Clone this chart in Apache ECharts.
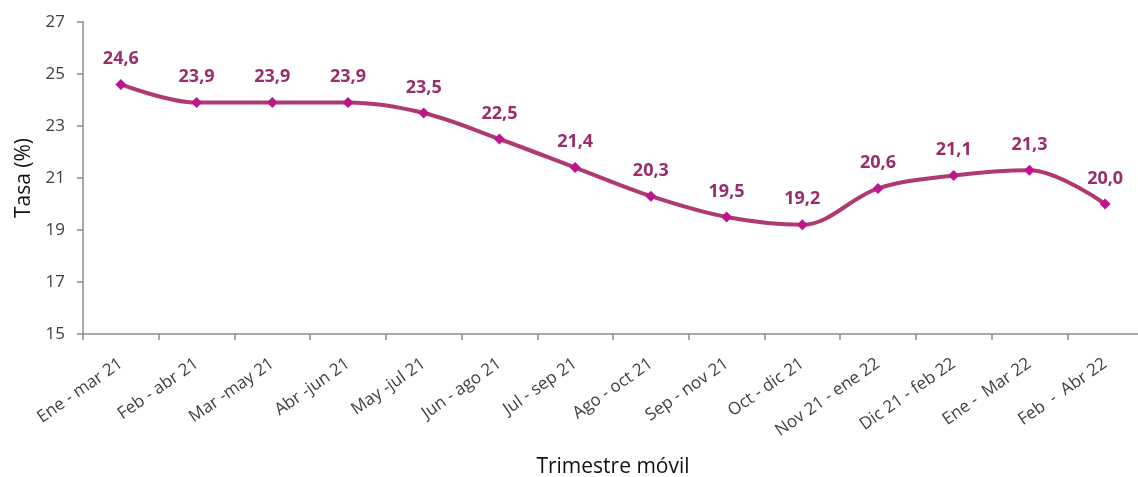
<!DOCTYPE html>
<html>
<head>
<meta charset="utf-8">
<script src="https://cdn.jsdelivr.net/npm/echarts@6/dist/echarts.min.js"></script>
<style>html,body{margin:0;padding:0;background:#fff;}#c{width:1138px;height:477px;}</style>
</head>
<body>
<div id="c"></div>
<script>
const categories = ["Ene - mar 21","Feb - abr 21","Mar -may 21","Abr -jun 21","May -jul 21","Jun - ago 21","Jul - sep 21","Ago - oct 21","Sep - nov 21","Oct - dic 21","Nov 21 - ene 22","Dic 21 - feb 22","Ene -  Mar 22","Feb  -  Abr 22"];
const tasa = [24.6, 23.9, 23.9, 23.9, 23.5, 22.5, 21.4, 20.3, 19.5, 19.2, 20.6, 21.1, 21.3, 20.0];
const yTicks = [15, 17, 19, 21, 23, 25, 27];

const chart = echarts.init(document.getElementById('c'));
const font = '"Open Sans", "Noto Sans", sans-serif';
chart.setOption({
  animation: false,
  grid: { left: 83, width: 1060, top: 22, height: 312, outerBoundsMode: 'none', containLabel: false },
  xAxis: {
    type: 'category',
    data: categories,
    boundaryGap: true,
    name: 'Trimestre móvil',
    nameLocation: 'middle',
    nameGap: 123,
    nameTextStyle: { color: '#111', fontSize: 21, fontFamily: font },
    axisLine: { lineStyle: { color: '#8c8c8c', width: 1.5 } },
    axisTick: { show: true, length: 6, lineStyle: { color: '#8c8c8c', width: 1.5 } },
    axisLabel: { rotate: 35, margin: 28, color: '#404040', fontSize: 17, fontFamily: font, interval: 0 }
  },
  yAxis: {
    type: 'value',
    min: yTicks[0],
    max: yTicks[yTicks.length - 1],
    interval: 2,
    name: 'Tasa (%)',
    nameLocation: 'middle',
    nameGap: 48,
    nameTextStyle: { color: '#111', fontSize: 21, fontFamily: font },
    splitLine: { show: false },
    axisLine: { show: true, lineStyle: { color: '#8c8c8c', width: 1.5 } },
    axisTick: { show: true, length: 6, lineStyle: { color: '#8c8c8c', width: 1.5 } },
    axisLabel: { margin: 18, color: '#404040', fontSize: 17, fontFamily: font }
  },
  series: [{
    type: 'line',
    data: tasa,
    smooth: 0.35,
    symbol: 'diamond',
    symbolSize: 11,
    lineStyle: { color: '#b03a70', width: 4 },
    itemStyle: { color: '#c0148f' },
    label: {
      show: true,
      position: 'top',
      distance: 11,
      color: '#9a2e6a',
      fontWeight: 'bold',
      fontSize: 18,
      fontFamily: font,
      formatter: p => p.value.toFixed(1).replace('.', ',')
    }
  }]
});
</script>
</body>
</html>
